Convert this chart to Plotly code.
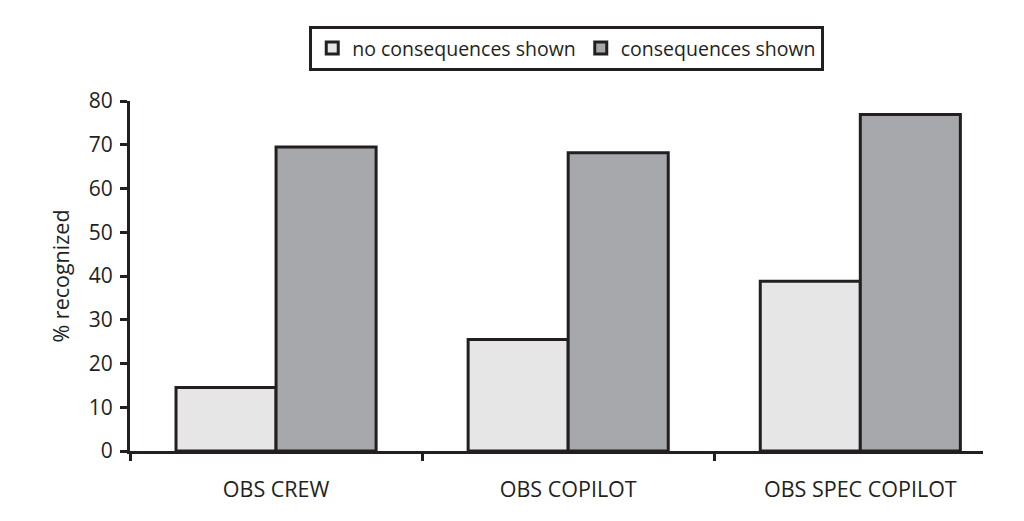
import plotly.graph_objects as go

categories = ["OBS CREW", "OBS COPILOT", "OBS SPEC COPILOT"]
no_consequences = [14.5, 25.5, 38.8]
consequences = [69.5, 68.2, 76.9]
series_names = ["no consequences shown", "consequences shown"]
y_ticks = [0, 10, 20, 30, 40, 50, 60, 70, 80]

ink = "#231f20"
font_family = "Open Sans, Noto Sans, sans-serif"

fig = go.Figure()
fig.add_trace(go.Bar(
    x=categories, y=no_consequences, name=series_names[0],
    marker=dict(color="#e6e6e7", line=dict(color=ink, width=3)),
))
fig.add_trace(go.Bar(
    x=categories, y=consequences, name=series_names[1],
    marker=dict(color="#a7a8ab", line=dict(color=ink, width=3)),
))

fig.update_layout(
    width=1024, height=521,
    margin=dict(l=122, r=49, t=93, b=78),
    paper_bgcolor="white", plot_bgcolor="white",
    barmode="group", bargap=0.315, bargroupgap=0,
    font=dict(family=font_family, size=21, color=ink),
    legend=dict(
        orientation="h", x=0.512, xanchor="center", y=1.215, yanchor="top",
        bgcolor="white", bordercolor=ink, borderwidth=3,
        font=dict(size=19.5, color=ink), itemwidth=30,
    ),
    xaxis=dict(
        type="category", range=[-0.5, 2.42],
        showline=True, linecolor=ink, linewidth=3,
        ticks="outside", tickson="boundaries", ticklen=7, tickwidth=3, tickcolor=ink,
        ticklabelstandoff=17, showgrid=False, zeroline=False,
        tickfont=dict(size=21.5, color=ink),
    ),
    yaxis=dict(
        range=[0, 80], tickvals=y_ticks,
        showline=True, linecolor=ink, linewidth=3,
        ticks="outside", ticklen=7, tickwidth=3, tickcolor=ink,
        ticklabelstandoff=3, showgrid=False, zeroline=False,
        title=dict(text="% recognized", font=dict(size=21.5, color=ink), standoff=14),
        tickfont=dict(size=21, color=ink),
    ),
)

fig.write_html("out.html")
